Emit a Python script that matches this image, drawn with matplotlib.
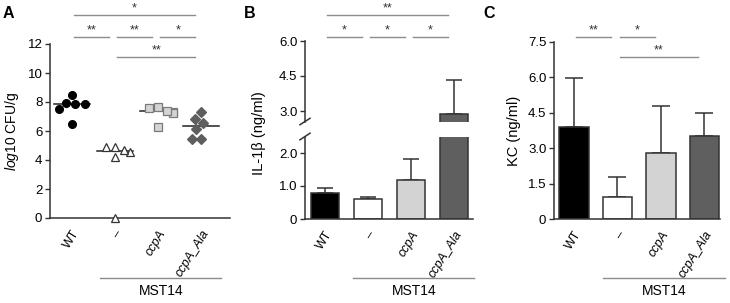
import numpy as np
import matplotlib
matplotlib.use('Agg')
import matplotlib.pyplot as plt
import matplotlib.transforms as mtransforms

plt.rcParams['font.family'] = ['Liberation Sans', 'DejaVu Sans']
plt.rcParams['mathtext.fontset'] = 'custom'
plt.rcParams['mathtext.rm'] = 'Liberation Sans'
plt.rcParams['mathtext.it'] = 'Liberation Sans:italic'

# data
groups = ['WT', '–', 'ccpA', 'ccpA_Ala']
cfu_wt = [7.95, 7.84, 8.48, 7.50, 7.86, 6.48]
cfu_none = [4.92, 4.57, 4.92, 4.19, 4.69, 0.0]
cfu_ccpa = [7.68, 7.33, 7.22, 7.40, 7.57, 6.30]
cfu_ala = [7.33, 6.83, 6.53, 6.12, 5.45, 5.45]

il1b_mean = [0.78, 0.60, 1.18, 2.89]
il1b_sd = [0.17, 0.07, 0.64, 1.46]

kc_mean = [3.90, 0.93, 2.80, 3.53]
kc_sd = [2.07, 0.85, 1.98, 0.95]

# significance: (i, j, label, row)
sig_a = [(0, 3, '*', 0), (0, 1, '**', 1), (1, 2, '**', 1), (2, 3, '*', 1), (1, 3, '**', 2)]
sig_b = [(0, 3, '**', 0), (0, 1, '*', 1), (1, 2, '*', 1), (2, 3, '*', 1), (1, 3, '**', 2)]
sig_c = [(0, 1, '**', 1), (1, 2, '*', 1), (1, 3, '**', 2)]

W, H = 730, 303
fig = plt.figure(figsize=(W/100, H/100), dpi=100)


def add_ax(l, r, t, b):
    return fig.add_axes([l/W, 1-b/H, (r-l)/W, (b-t)/H])


def style(ax, bottom=True):
    for s in ['top', 'right']:
        ax.spines[s].set_visible(False)
    for s in ['left', 'bottom']:
        ax.spines[s].set_color('#333333')
        ax.spines[s].set_linewidth(1.1)
    ax.tick_params(axis='both', direction='out', length=3.5, width=1.0,
                   color='#333333', labelsize=9.5, pad=2)
    if not bottom:
        ax.spines['bottom'].set_visible(False)
        ax.tick_params(axis='x', bottom=False, labelbottom=False)


def xlabels(ax):
    ax.set_xticks(range(len(groups)))
    ax.set_xticklabels(groups, rotation=58, ha='right', va='top',
                       rotation_mode='anchor', fontsize=9)
    for lab in ax.get_xticklabels()[2:]:
        lab.set_style('italic')
    ax.tick_params(axis='x', length=0, pad=7)


rows_y = [15, 37, 57]


def sig(ax, items):
    tr = mtransforms.blended_transform_factory(ax.transData, fig.transFigure)
    for i, j, lab, row in items:
        y = 1 - rows_y[row]/H
        x1, x2 = i + 0.05, j - 0.14
        ax.plot([x1, x2], [y, y], color='#8c8c8c', lw=1.0, transform=tr, clip_on=False)
        ax.text((x1+x2)/2, y + 1.0/H, lab, ha='center', va='bottom', fontsize=9,
                color='#333333', transform=tr)


def mst(ax):
    tr = mtransforms.blended_transform_factory(ax.transData, fig.transFigure)
    y = 1 - 278/H
    ax.plot([0.66, 3.47], [y, y], color='#8c8c8c', lw=1.0, transform=tr, clip_on=False)
    ax.text(2.07, 1 - 291/H, 'MST14', ha='center', va='center', fontsize=10,
            transform=tr)


def swarm(vals, xpx=43.0, ypx=14.5, diam=9.5):
    # beeswarm in pixel space: each point goes as close to the centre as it can
    order = np.argsort(vals)[::-1]
    placed = []
    offs = np.zeros(len(vals))
    cands = sorted(np.arange(-30, 31) * 0.5, key=lambda c: (abs(c), c))
    for k in order:
        y = vals[k] * ypx
        for c in cands:
            x = c
            if all((x - px) ** 2 + (y - py) ** 2 >= diam ** 2 for px, py in placed):
                break
        placed.append((x, y))
        offs[k] = x / xpx
    return offs


# ---------------- A ----------------
axA = add_ax(50, 230, 44, 218)
style(axA)
axA.set_xlim(-0.51, 3.67)
axA.set_ylim(0, 12)
axA.set_yticks(range(0, 13, 2))
xlabels(axA)
axA.set_ylabel(r'$\mathit{log}$10 CFU/g', fontsize=10, labelpad=5)

marks = [('o', 'black', 'black'), ('^', 'white', '#333333'),
         ('s', '#d4d4d4', '#7a7a7a'), ('D', '#5e5e5e', '#5e5e5e')]
for k, vals in enumerate([cfu_wt, cfu_none, cfu_ccpa, cfu_ala]):
    vals = np.array(vals)
    offs = swarm(vals)
    m, fc, ec = marks[k]
    ms = 5.6 if m != 'D' else 4.6
    axA.plot(k + offs, vals, m, ms=ms, mfc=fc, mec=ec, mew=0.9, ls='none',
             clip_on=False, zorder=3)
    med = np.median(vals)
    axA.plot([k - 0.42, k + 0.42], [med, med], color='#222222', lw=1.1, zorder=2)
sig(axA, sig_a)
mst(axA)

# ---------------- B ----------------
bar_fc = ['black', 'white', '#d3d3d3', '#5f5f5f']
bar_ec = '#333333'

axBl = add_ax(305, 473, 136.5, 219)
axBu = add_ax(305, 473, 41, 121.5)
for ax in [axBl, axBu]:
    ax.bar(range(4), il1b_mean, width=0.65, color=bar_fc, edgecolor=bar_ec, lw=1.1, zorder=2)
    ax.errorbar(range(4), il1b_mean, yerr=[[0]*4, il1b_sd], fmt='none',
                ecolor='#333333', elinewidth=1.1, capsize=5.5, capthick=1.1, zorder=1)
    ax.set_xlim(-0.465, 3.44)
style(axBl)
style(axBu, bottom=False)
axBl.set_ylim(0, 2.5)
axBl.set_yticks([0, 1.0, 2.0])
axBl.set_yticklabels(['0', '1.0', '2.0'])
axBu.set_ylim(2.55, 6.0)
axBu.set_yticks([3.0, 4.5, 6.0])
axBu.set_yticklabels(['3.0', '4.5', '6.0'])
xlabels(axBl)
# break marks
for ax, yy in [(axBu, 0.0), (axBl, 1.0)]:
    ax.plot([-0.03, 0.03], [yy - 0.04, yy + 0.04], transform=ax.transAxes,
            color='#333333', lw=1.1, clip_on=False)
fig.text(259/W, 1 - 133/H, 'IL-1β (ng/ml)', rotation=90, ha='center', va='center',
         fontsize=10.5)
sig(axBl, sig_b)
mst(axBl)

# ---------------- C ----------------
axC = add_ax(554, 720, 42, 219)
style(axC)
axC.bar(range(4), kc_mean, width=0.68, color=bar_fc, edgecolor=bar_ec, lw=1.1, zorder=2)
axC.errorbar(range(4), kc_mean, yerr=[[0]*4, kc_sd], fmt='none',
             ecolor='#333333', elinewidth=1.1, capsize=6.5, capthick=1.1, zorder=1)
axC.set_xlim(-0.46, 3.36)
axC.set_ylim(0, 7.5)
axC.set_yticks([0, 1.5, 3.0, 4.5, 6.0, 7.5])
axC.set_yticklabels(['0', '1.5', '3.0', '4.5', '6.0', '7.5'])
xlabels(axC)
axC.set_ylabel('KC (ng/ml)', fontsize=10.5, labelpad=5)
sig(axC, sig_c)
mst(axC)

for lab, x in [('A', 8), ('B', 250), ('C', 489)]:
    fig.text(x/W, 1 - 14/H, lab, fontsize=11.5, fontweight='bold', ha='center', va='center')

fig.savefig('out.png', dpi=100)
